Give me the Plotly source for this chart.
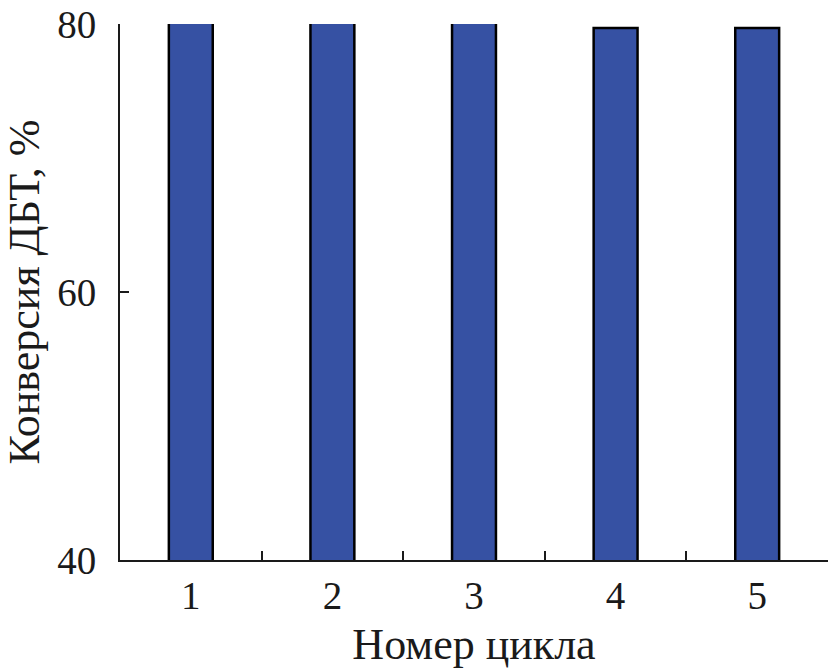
import plotly.graph_objects as go

cycles = [1, 2, 3, 4, 5]
conversion = [82, 82, 82, 79.7, 79.7]
y_ticks = [40, 60, 80]

font = "Liberation Serif"
fig = go.Figure(go.Bar(
    x=cycles, y=conversion, width=0.31,
    marker=dict(color="#3651a3", line=dict(color="black", width=2.5)),
))
fig.update_layout(
    width=829, height=669,
    margin=dict(l=120, r=1, t=24, b=109, autoexpand=False),
    plot_bgcolor="white", paper_bgcolor="white",
    showlegend=False,
    font=dict(family=font, size=38, color="#1a1a1a"),
    xaxis=dict(
        range=[0.5, 5.5], tickvals=cycles, ticks="inside", ticklen=0, automargin=False,
        showline=True, linecolor="#1a1a1a", linewidth=2, showgrid=False, zeroline=False,
        minor=dict(ticks="inside", tick0=0.5, dtick=1, ticklen=9, tickwidth=2, tickcolor="#1a1a1a"),
        title=dict(text="Номер цикла", font=dict(family=font, size=44), standoff=16),
        tickfont=dict(family=font, size=39),
    ),
    yaxis=dict(
        range=[40, 80], tickvals=y_ticks, ticks="inside", ticklen=9, tickwidth=2, tickcolor="#1a1a1a",
        showline=True, linecolor="#1a1a1a", linewidth=2, showgrid=False, zeroline=False,
        automargin=False, ticklabelstandoff=14,
        title=dict(text="Конверсия ДБТ, %", font=dict(family=font, size=44), standoff=15),
        tickfont=dict(family=font, size=39),
    ),
)
fig.write_html("out.html", config={"displayModeBar": False},
               post_script="document.body.style.margin='0';document.body.style.overflow='hidden';")
